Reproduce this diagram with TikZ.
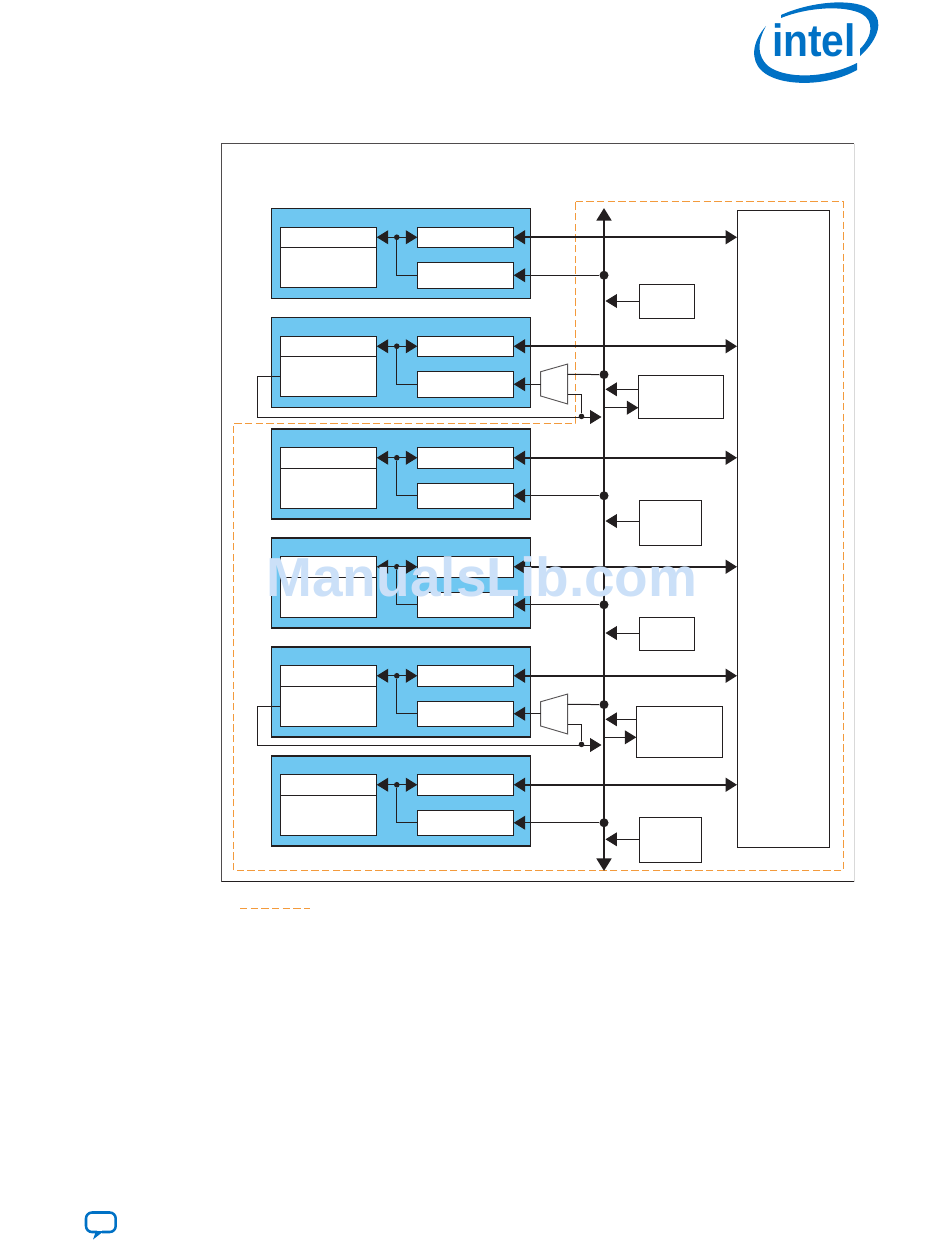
\documentclass[tikz,border=0pt]{standalone}
\usepackage{fontspec}
\usetikzlibrary{arrows.meta}
\newfontfamily\logofont{Liberation Sans}
\definecolor{inkline}{HTML}{231F20}
\definecolor{blockblue}{HTML}{6FC7F1}
\definecolor{regionorange}{HTML}{F39A3C}
\definecolor{intelblue}{HTML}{0071C5}
\definecolor{markblue}{HTML}{CBE0F8}
\def\u{.75pt}
\tikzset{
  wire/.style={draw=inkline, line width=.75pt},
  heavy/.style={draw=inkline, line width=1.6pt},
  region/.style={draw=regionorange, line width=.75pt, dash pattern=on 5.5pt off 2.5pt},
  block/.style={draw=inkline, line width=.8pt, fill=blockblue, anchor=north west, inner sep=0pt, outer sep=0pt, minimum width=259.4*\u, minimum height=90*\u},
  cell/.style={draw=inkline, line width=.75pt, fill=white, anchor=north west, inner sep=0pt, outer sep=0pt, minimum width=96.4*\u},
  bigdot/.style={circle, fill=inkline, inner sep=0pt, minimum size=9*\u},
  smalldot/.style={circle, fill=inkline, inner sep=0pt, minimum size=5.6*\u},
  >={Triangle[length=8.6pt,width=10.4pt]}
}
\begin{document}
\begin{tikzpicture}[x=.75pt,y=-.75pt]
  \useasboundingbox (0,0) rectangle (950,1260);

  % logo
  \fill[intelblue] (781,15) .. controls (810,2) and (850,-2) .. (868,8) .. controls (885,18) and (880,38) .. (860,56) -- (860,49) .. controls (873,36) and (874,21) .. (862,14) .. controls (845,5) and (808,7) .. (781,18) -- cycle;
  \fill[intelblue] (766,26) .. controls (752,42) and (750,60) .. (762,71) .. controls (778,86) and (825,88) .. (857,70) -- (857,63) .. controls (825,79) and (785,79) .. (768,66) .. controls (757,56) and (757,42) .. (766,26) -- cycle;
  \node[text=intelblue, xscale=.9, inner sep=0pt, anchor=base] (logotext) at (814,56) {\logofont\bfseries\fontsize{34pt}{34pt}\selectfont intel};

  % outer frame
  \draw[draw=black!15, line width=.75pt] (854,143.5) -- (854,881.5);
  \draw[draw=inkline!80, line width=.75pt] (854,143.5) -- (221.5,143.5) -- (221.5,881.5);
  \draw[wire] (221.5,881.5) -- (854,881.5);

  % dashed region
  \draw[region] (575.5,201) -- (843,201) -- (843,870.5) -- (233.5,870.5) -- (233.5,423) -- (575.5,423) -- cycle;
  \coordinate (legenda) at (240,908.5);
  \coordinate (legendb) at (310,908.5);
  \draw[region] (legenda) -- (legendb);

  % bus
  \coordinate (bustop) at (604,208);
  \coordinate (busbot) at (604,871);
  \draw[draw=inkline, line width=2pt, {Triangle[length=9.4pt,width=11pt]}-{Triangle[length=9.4pt,width=11pt]}] (bustop) -- (busbot);

  % right column
  \node[draw=inkline, line width=.75pt, anchor=north west, inner sep=0pt, outer sep=0pt, minimum width=92.5*\u, minimum height=637*\u] (hps) at (737,210) {};

  % the six blocks
  \foreach \i/\T in {1/208.5,2/317.5,3/429,4/538,5/647,6/756} {
    \node[block] (block\i) at (271.3,\T) {};
    \node[cell, minimum height=20.5*\u] (head\i) at (280.3,\T+18.5) {};
    \node[cell, minimum height=40*\u] (mem\i) at (280.3,\T+39) {};
    \node[cell, minimum height=20.5*\u] (upper\i) at (417.3,\T+18.5) {};
    \node[cell, minimum height=25.5*\u] (lower\i) at (417.3,\T+54) {};
    \node[smalldot] (tap\i) at (396.8,\T+28.75) {};
    \draw[wire,<->] (head\i.east |- upper\i.west) -- (upper\i.west);
    \draw[wire] (tap\i) |- (lower\i.west);
    \draw[heavy,<->] (upper\i.east) -- (upper\i.east -| hps.west);
  }

  % lower ports to the bus
  \foreach \i in {1,3,4,6} {
    \node[bigdot] (join\i) at (lower\i.east -| bustop) {};
    \draw[wire,<-] (lower\i.east) -- (join\i);
  }

  % muxes
  \foreach \i/\Y/\L in {2/371.7/417,5/701.7/745} {
    \coordinate (muxa\i) at (567.7,\Y+2.6);
    \coordinate (muxb\i) at (567.7,\Y+22.6);
    \coordinate (muxleft\i) at (540.7,\Y+12);
    \coordinate (loopend\i) at (601.5,\L);
    \draw[draw=inkline!75, line width=.7pt] (540.7,\Y) -- (567.7,\Y-7.7) -- (567.7,\Y+32.3) -- (540.7,\Y+24.3) -- cycle;
    \draw[wire,<-] (lower\i.east) -- (lower\i.east -| muxleft\i);
    \node[bigdot] (join\i) at (604,\Y+2.9) {};
    \draw[wire] (muxa\i) -- (join\i);
    \node[smalldot] (merge\i) at (581.5,\L-.6) {};
    \draw[wire] (muxb\i) -| (merge\i);
    \draw[wire,->] (mem\i.west) -- ++(-23,0) |- (loopend\i);
  }

  % boxes beside the bus
  \foreach \n/\X/\Y/\W/\H in {a/639/284.5/55/33.5,b/638.3/375.3/85.4/43,c/639.5/500.5/62/45,d/639/617/55/33,e/636.3/706.3/86.4/51,f/639.5/817/61.5/45.3} {
    \node[draw=inkline, line width=.75pt, anchor=north west, inner sep=0pt, outer sep=0pt, minimum width=\W*\u, minimum height=\H*\u] (side\n) at (\X,\Y) {};
  }
  \foreach \n/\Y in {a/301,b/389.3,c/521,d/633,e/719.3,f/839.3} {
    \coordinate (in\n) at (605.5,\Y);
    \draw[wire,<-] (in\n) -- (in\n -| side\n.west);
  }
  \foreach \n/\Y in {b/407.7,e/737.3} {
    \coordinate (out\n) at (605,\Y);
    \draw[wire,->] (out\n) -- (out\n -| side\n.west);
  }

  % speech bubble
  \draw[draw=intelblue, line width=1.9pt, rounded corners=4.5pt] (102,1232) -- (115.7,1232) -- (115.7,1212.5) -- (86,1212.5) -- (86,1232) -- (97,1232);
  \fill[intelblue] (93,1239.5) -- (96,1231) -- (104,1231) -- cycle;

  % watermark
  \node[text=markblue, inner sep=0pt, anchor=base] (watermark) at (482,596) {\logofont\bfseries\fontsize{41.25pt}{41.25pt}\selectfont ManualsLib.com};
\end{tikzpicture}
\end{document}
